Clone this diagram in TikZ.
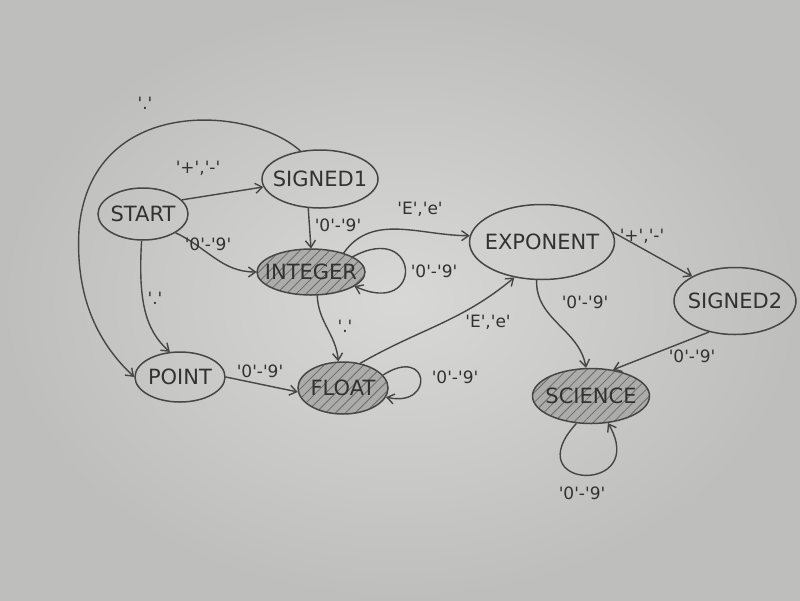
\documentclass[tikz,border=0pt]{standalone}
\usepackage{fontspec}
\setmainfont{DejaVu Sans}
\usetikzlibrary{shapes.geometric,arrows.meta,patterns.meta}
\definecolor{paperdark}{RGB}{190,190,188}
\definecolor{paperlight}{RGB}{216,216,214}
\definecolor{pencil}{RGB}{70,70,70}
\definecolor{ink}{RGB}{50,50,50}
\definecolor{hatchfill}{RGB}{172,172,170}
\newcommand{\sq}{\textquotesingle}
\begin{document}
\begin{tikzpicture}[x=1pt,y=-1pt,
  state/.style={ellipse, draw=pencil, line width=1.5pt, inner sep=0pt},
  accept/.style={state, preaction={fill=hatchfill},
    pattern={Lines[angle=45,distance=7pt,line width=0.8pt]}, pattern color=pencil!80},
  stxt/.style={text=ink, inner sep=0pt, font=\fontsize{21}{24}\selectfont},
  arr/.style={draw=pencil, line width=1.4pt, -{Straight Barb[length=7pt,width=10pt]}},
  lbl/.style={text=ink, font=\fontsize{17}{20}\selectfont, inner sep=1pt}]
\useasboundingbox (0,0) rectangle (800,600);
\shade[inner color=paperlight, outer color=paperdark] (0,0) rectangle (800,600);

\node[state, minimum width=90pt, minimum height=52pt] (start) at (143,214) {};
\node[state, minimum width=116pt, minimum height=58pt] (signed1) at (320,179) {};
\node[accept, minimum width=108pt, minimum height=46pt] (integer) at (311,272) {};
\node[state, minimum width=90pt, minimum height=50pt] (point) at (180,377) {};
\node[accept, minimum width=90pt, minimum height=52pt] (float) at (343,388) {};
\node[state, minimum width=145pt, minimum height=75pt] (exponent) at (542,242) {};
\node[state, minimum width=122pt, minimum height=67pt] (signed2) at (735,301) {};
\node[accept, minimum width=117pt, minimum height=55pt] (science) at (591,396) {};

\node[stxt] (t1) at (start) {START};
\node[stxt] (t2) at (signed1) {SIGNED1};
\node[stxt] (t3) at (integer) {INTEGER};
\node[stxt] (t4) at (point) {POINT};
\node[stxt] (t5) at (float) {FLOAT};
\node[stxt] (t6) at (exponent) {EXPONENT};
\node[stxt] (t7) at (signed2) {SIGNED2};
\node[stxt] (t8) at (science) {SCIENCE};

% START
\draw[arr] (start.20) -- (signed1.188);
\node[lbl] (l0) at (198,168) {\sq+\sq,\sq-\sq};
\draw[arr] (start.-30) to[out=-25, in=180] (integer.west);
\node[lbl] (l1) at (208,244) {\sq0\sq-\sq9\sq};
\draw[arr] (start.-93) .. controls (138,300) and (145,330) .. (point.112);
\node[lbl] (l2) at (155,298) {\sq.\sq};

% SIGNED1
\draw[arr] (signed1.-112) -- (integer.north);
\node[lbl] (l3) at (338,225) {\sq0\sq-\sq9\sq};
\draw[arr] (signed1.125) .. controls (250,105) and (90,95) .. (79,230)
  .. controls (75,300) and (100,345) .. (point.west);
\node[lbl] (l4) at (145,103) {\sq.\sq};

% INTEGER
\draw[arr] (integer.20) .. controls (420,220) and (425,318) .. (integer.-18);
\node[lbl] (l5) at (434,271) {\sq0\sq-\sq9\sq};
\draw[arr] (integer.30) to[out=55, in=180] (exponent.175);
\node[lbl] (l6) at (420,209) {\sq E\sq,\sq e\sq};
\draw[arr] (integer.-75) to[out=-88, in=95] (float.100);
\node[lbl] (l7) at (345,326) {\sq.\sq};

% POINT
\draw[arr] (point.east) -- (float.185);
\node[lbl] (l8) at (260,371) {\sq0\sq-\sq9\sq};

% FLOAT
\draw[arr] (float.18) .. controls (430,345) and (435,408) .. (float.-12);
\node[lbl] (l9) at (455,377) {\sq0\sq-\sq9\sq};
\draw[arr] (float.55) to[out=30, in=220] (exponent.-128);
\node[lbl] (l10) at (488,322) {\sq E\sq,\sq e\sq};

% EXPONENT
\draw[arr] (exponent.8) -- (signed2.150);
\node[lbl] (l11) at (642,236) {\sq+\sq,\sq-\sq};
\draw[arr] (exponent.-98) to[out=-92, in=100] (science.100);
\node[lbl] (l12) at (585,302) {\sq0\sq-\sq9\sq};

% SIGNED2
\draw[arr] (signed2.-130) -- (science.50);
\node[lbl] (l13) at (692,356) {\sq0\sq-\sq9\sq};

% SCIENCE
\draw[arr] (science.-118) .. controls (515,490) and (650,495) .. (science.-58);
\node[lbl] (l14) at (582,493) {\sq0\sq-\sq9\sq};
\end{tikzpicture}
\end{document}
